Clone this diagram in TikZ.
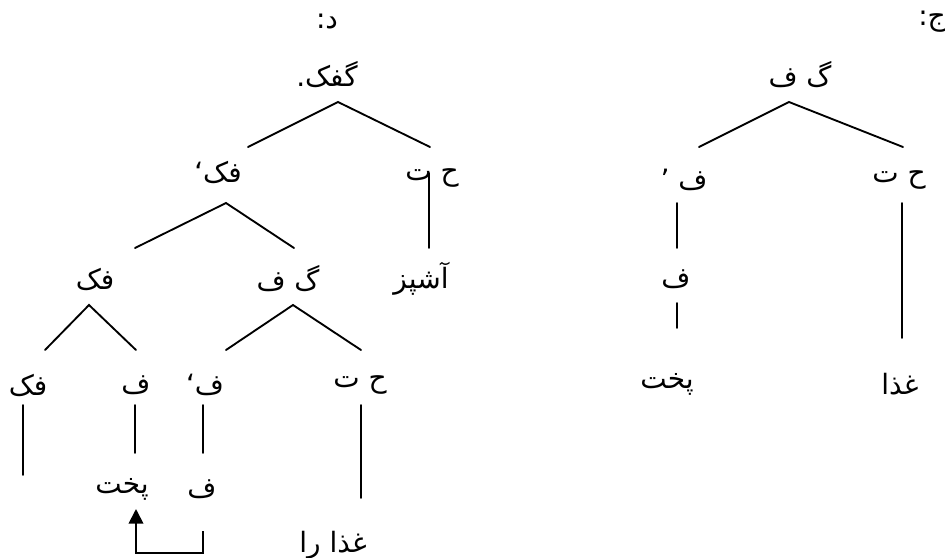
\documentclass[tikz,border=0pt]{standalone}
\usepackage{fontspec}
\newfontfamily\arabicfont[Script=Arabic]{DejaVu Sans}
\TeXXeTstate=1
\usetikzlibrary{arrows.meta}
\tikzset{
  lbl/.style={inner sep=0pt, anchor=center, font=\arabicfont\fontsize{21}{25}\selectfont},
  branch/.style={line width=1.4pt, line cap=round},
  moveline/.style={line width=1.4pt, -{Triangle[length=11pt,width=11pt]}}
}
\begin{document}
\begin{tikzpicture}[x=0.75pt,y=-0.75pt]
\useasboundingbox (0,0) rectangle (945,557);
% ---------------- left tree (د)
\node[lbl] (dL) at (327,22) {\beginR د\kern0pt:\endR};
\node[lbl] (L0) at (327,75) {\beginR گفک\kern0pt.\endR};
\node[lbl] (L1) at (218,172) {\beginR فک\kern0pt‘\endR};
\node[lbl] (L2) at (432,178) {\beginR ح ت\endR};
\node[lbl] (L3) at (421,279) {\beginR آشپز\endR};
\node[lbl] (L4) at (95,279) {\beginR فک\endR};
\node[lbl] (L5) at (288,279) {\beginR گ ف\endR};
\node[lbl] (L6) at (28,385) {\beginR فک\endR};
\node[lbl] (L7) at (136,385) {\beginR ف\endR};
\node[lbl] (L8) at (205,385) {\beginR ف\kern0pt‘\endR};
\node[lbl] (L9) at (360,385) {\beginR ح ت\endR};
\node[lbl] (L10) at (122,489) {\beginR پخت\endR};
\node[lbl] (L11) at (202,489) {\beginR ف\endR};
\node[lbl] (L12) at (333,545) {\beginR غذا را\endR};
% branch points
\coordinate (L0b) at (338,102);
\coordinate (L1t) at (248,147);
\coordinate (L2t) at (430,147);
\coordinate (L1b) at (226,203);
\coordinate (L4t) at (135,248);
\coordinate (L5t) at (294,248);
\coordinate (L2b) at (429,173);
\coordinate (L3t) at (429,248);
\coordinate (L4b) at (89,305);
\coordinate (L6t) at (45,350);
\coordinate (L7t) at (136,350);
\coordinate (L5b) at (293,305);
\coordinate (L8t) at (226,350);
\coordinate (L9t) at (361,350);
\coordinate (L6b) at (23,405);
\coordinate (L6e) at (23,475);
\coordinate (L7b) at (135,405);
\coordinate (L10t) at (135,453);
\coordinate (L8b) at (203,405);
\coordinate (L11t) at (203,453);
\coordinate (L9b) at (361,405);
\coordinate (L12t) at (361,498);
\coordinate (mvA) at (203,531);
\coordinate (mvB) at (136,509);
\draw[branch] (L1t) -- (L0b) -- (L2t);
\draw[branch] (L4t) -- (L1b) -- (L5t);
\draw[branch] (L2b) -- (L3t);
\draw[branch] (L6t) -- (L4b) -- (L7t);
\draw[branch] (L8t) -- (L5b) -- (L9t);
\draw[branch] (L6b) -- (L6e);
\draw[branch] (L7b) -- (L10t);
\draw[branch] (L8b) -- (L11t);
\draw[branch] (L9b) -- (L12t);
\draw[moveline] (mvA) -- (203,553) -- (136,553) -- (mvB);
% ---------------- right tree (ج)
\node[lbl] (dR) at (932,22) {\beginR ج\kern0pt:\endR};
\node[lbl] (R0) at (800,75) {\beginR گ ف\endR};
\node[lbl] (R1) at (684,180) {\beginR ف ’\endR};
\node[lbl] (R2) at (899,180) {\beginR ح ت\endR};
\node[lbl] (R3) at (676,279) {\beginR ف\endR};
\node[lbl] (R4) at (667,384) {\beginR پخت\endR};
\node[lbl] (R5) at (900,384) {\beginR غذا\endR};
\coordinate (R0b) at (789,102);
\coordinate (R1t) at (699,147);
\coordinate (R2t) at (903,147);
\coordinate (R1b) at (677,203);
\coordinate (R3t) at (677,248);
\coordinate (R2b) at (902,203);
\coordinate (R5t) at (902,338);
\coordinate (R3b) at (677,303);
\coordinate (R4t) at (677,328);
\draw[branch] (R1t) -- (R0b) -- (R2t);
\draw[branch] (R1b) -- (R3t);
\draw[branch] (R2b) -- (R5t);
\draw[branch] (R3b) -- (R4t);
\end{tikzpicture}
\end{document}
